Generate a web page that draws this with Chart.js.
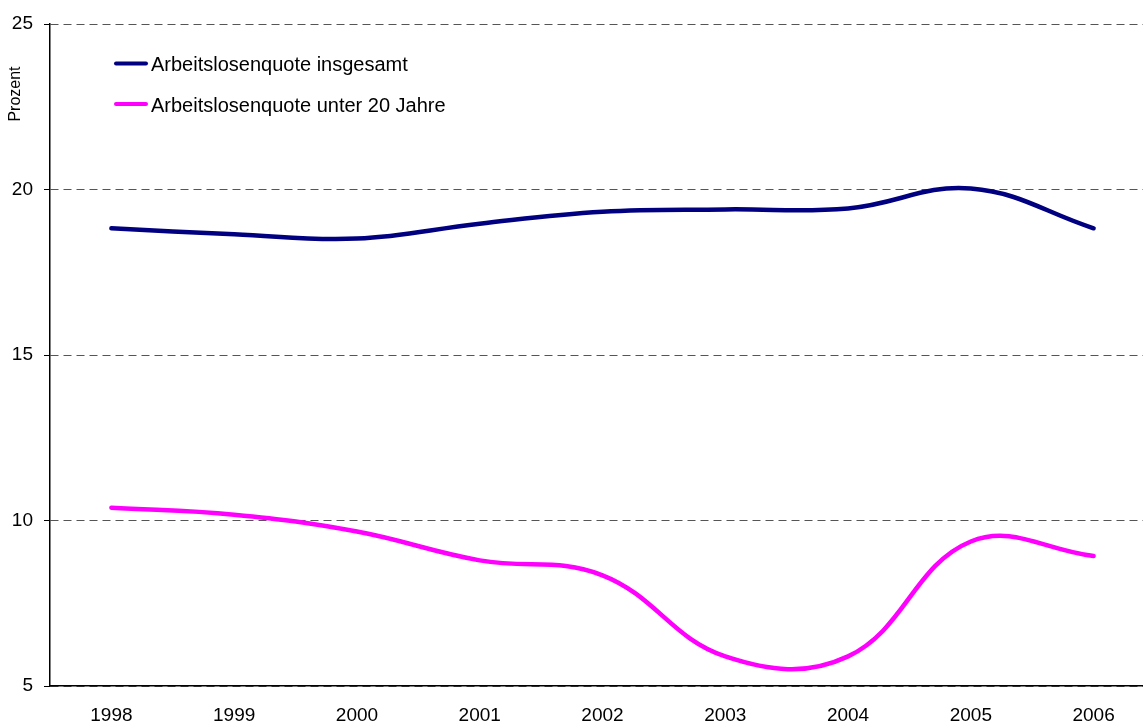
<!DOCTYPE html>
<html>
<head>
<meta charset="utf-8">
<script src="https://cdn.jsdelivr.net/npm/chart.js@4/dist/chart.umd.min.js"></script>
<style>
  html, body { margin: 0; padding: 0; background: #fff; overflow: hidden; width: 1143px; height: 722px; }
  #wrap { position: absolute; left: 0; top: 0; width: 1156px; height: 745px; }
</style>
</head>
<body>
<div id="wrap"><canvas id="c" width="1156" height="745"></canvas></div>
<script>
const categories = ['1998', '1999', '2000', '2001', '2002', '2003', '2004', '2005', '2006'];
const insgesamt = [18.83, 18.65, 18.52, 18.97, 19.33, 19.40, 19.43, 20.03, 18.83];
const unter20 = [10.39, 10.18, 9.67, 8.80, 8.35, 5.90, 5.90, 9.37, 8.93];
const seriesNames = ['Arbeitslosenquote insgesamt', 'Arbeitslosenquote unter 20 Jahre'];
const yTicks = [5, 10, 15, 20, 25];
const yTitle = 'Prozent';

const FONT = 'Arial, "Liberation Sans", Helvetica, sans-serif';

const overlay = {
  id: 'overlay',
  afterDraw(chart) {
    const ctx = chart.ctx;
    ctx.save();
    // legend
    const ys = [63.5, 104];
    chart.data.datasets.forEach((ds, i) => {
      ctx.strokeStyle = ds.borderColor;
      ctx.lineWidth = 4;
      ctx.lineCap = 'round';
      ctx.beginPath();
      ctx.moveTo(116, ys[i]);
      ctx.lineTo(146, ys[i]);
      ctx.stroke();
      ctx.fillStyle = '#000';
      ctx.font = '20px ' + FONT;
      ctx.textBaseline = 'middle';
      ctx.textAlign = 'left';
      ctx.fillText(ds.label, 151, ys[i] + 2);
    });
    // y title
    ctx.translate(16, 94);
    ctx.rotate(-Math.PI / 2);
    ctx.font = '16px ' + FONT;
    ctx.textAlign = 'center';
    ctx.textBaseline = 'middle';
    ctx.fillStyle = '#000';
    ctx.fillText(yTitle, 0, 0);
    ctx.restore();
  }
};

new Chart(document.getElementById('c'), {
  type: 'line',
  data: {
    labels: categories,
    datasets: [
      { label: seriesNames[0], data: insgesamt, borderColor: '#000080', backgroundColor: '#000080',
        borderWidth: 4.5, pointRadius: 0, tension: 0.4, borderCapStyle: 'round' },
      { label: seriesNames[1], data: unter20, borderColor: '#FF00FF', backgroundColor: '#FF00FF',
        borderWidth: 4.5, pointRadius: 0, tension: 0.4, borderCapStyle: 'round' }
    ]
  },
  options: {
    responsive: false,
    animation: false,
    events: [],
    layout: { padding: { top: 24, right: 1, left: 0, bottom: 0 } },
    plugins: { legend: { display: false }, tooltip: { enabled: false } },
    scales: {
      x: {
        offset: true,
        grid: { display: false, drawTicks: false, offset: true },
        border: { display: true, color: '#000', width: 1.5 },
        ticks: { color: '#000', font: { family: FONT, size: 19 }, padding: 18, maxRotation: 0, autoSkip: false }
      },
      y: {
        min: 5, max: 25,
        afterBuildTicks: (scale) => { scale.ticks = yTicks.map(v => ({ value: v })); },
        afterFit: (scale) => { scale.width = 50; },
        grid: { color: '#555', lineWidth: 1, tickLength: 6, tickColor: '#000', tickBorderDash: [] },
        border: { display: true, color: '#000', width: 1.5, dash: [8, 5] },
        ticks: { color: '#000', font: { family: FONT, size: 19 }, padding: 11 }
      }
    }
  },
  plugins: [overlay]
});
</script>
</body>
</html>
